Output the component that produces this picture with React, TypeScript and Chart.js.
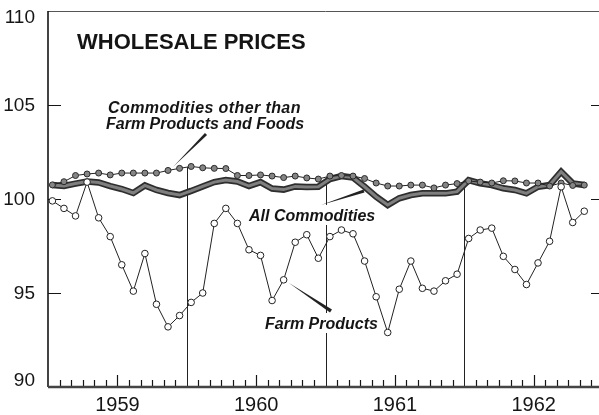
import React, { useEffect, useRef } from "react";
import { Chart, registerables } from "chart.js";

Chart.register(...registerables);

// ---- Data (monthly, Jan 1959 .. Nov 1962) ----
const yearLabels = ["1959", "1960", "1961", "1962"];
const yTickValues = [90, 95, 100, 105, 110];

const farmProducts = [
  99.9, 99.5, 99.1, 100.9, 99.0, 98.0, 96.5, 95.1, 97.1, 94.4, 93.2, 93.8,
  94.5, 95.0, 98.7, 99.5, 98.7, 97.3, 97.0, 94.6, 95.7, 97.7, 98.1, 96.85,
  98.0, 98.35, 98.15, 96.7, 94.8, 92.9, 95.2, 96.7, 95.25, 95.1, 95.65, 96.0,
  97.9, 98.35, 98.45, 96.95, 96.25, 95.45, 96.6, 97.75, 100.65, 98.75, 99.35,
];

const otherCommodities = [
  100.75, 100.92, 101.25, 101.33, 101.38, 101.28, 101.38, 101.38, 101.38, 101.38, 101.52, 101.63,
  101.73, 101.66, 101.63, 101.62, 101.25, 101.25, 101.28, 101.22, 101.14, 101.22, 101.12, 101.06,
  101.22, 101.25, 101.22, 101.09, 100.85, 100.69, 100.69, 100.74, 100.74, 100.59, 100.74, 100.82,
  100.96, 100.9, 100.85, 100.97, 100.96, 100.85, 100.85, 100.69, 100.85, 100.72, 100.74,
];

const allCommodities = [
  100.74, 100.69, 100.82, 100.93, 100.88, 100.69, 100.53, 100.32, 100.72, 100.48, 100.32, 100.21,
  100.43, 100.67, 100.9, 101.01, 100.93, 100.69, 100.9, 100.56, 100.5, 100.67, 100.64, 100.65,
  101.06, 101.22, 101.14, 100.65, 100.12, 99.68, 100.04, 100.21, 100.3, 100.3, 100.3, 100.39,
  101.0, 100.83, 100.74, 100.57, 100.48, 100.3, 100.65, 100.74, 101.45, 100.83, 100.74,
];

const MONTH_OFFSET = 0.38;
const TOTAL_MONTHS = 48;

const toPoints = (arr: number[]) => arr.map((v, i) => ({ x: i + MONTH_OFFSET, y: v }));

const FONT = "'Liberation Sans', Arial, sans-serif";
const INK = "#151515";

function interp(arr: number[], m: number) {
  const t = m - MONTH_OFFSET;
  const i = Math.floor(t);
  const f = t - i;
  const a = arr[Math.max(0, Math.min(arr.length - 1, i))];
  const b = arr[Math.max(0, Math.min(arr.length - 1, i + 1))];
  return a + (b - a) * f;
}

function wedge(ctx: CanvasRenderingContext2D, x1: number, y1: number, x2: number, y2: number, w: number) {
  // thin at (x1,y1), thick (width w) at (x2,y2)
  const dx = x2 - x1, dy = y2 - y1;
  const len = Math.hypot(dx, dy);
  const nx = -dy / len, ny = dx / len;
  ctx.beginPath();
  ctx.moveTo(x1, y1);
  ctx.lineTo(x2 + nx * w / 2, y2 + ny * w / 2);
  ctx.lineTo(x2 - nx * w / 2, y2 - ny * w / 2);
  ctx.closePath();
  ctx.fill();
}

export default function App() {
  const ref = useRef<HTMLCanvasElement>(null);

  useEffect(() => {
    document.body.style.margin = "0";
    document.body.style.overflow = "hidden";
    const canvas = ref.current!;

    const overlay = {
      id: "overlay",
      beforeDatasetsDraw(chart: any) {
        const ctx: CanvasRenderingContext2D = chart.ctx;
        const xs = chart.scales.x;
        const ys = chart.scales.y;
        const { left, right, top, bottom } = chart.chartArea;
        ctx.save();

        // top border
        ctx.strokeStyle = "#555";
        ctx.lineWidth = 1;
        ctx.beginPath();
        ctx.moveTo(left, top + 0.5);
        ctx.lineTo(right, top + 0.5);
        ctx.stroke();

        // left axis
        ctx.strokeStyle = INK;
        ctx.lineWidth = 1.6;
        ctx.beginPath();
        ctx.moveTo(left, top);
        ctx.lineTo(left, bottom);
        ctx.stroke();

        // y ticks (inside, both sides)
        ctx.lineWidth = 1.2;
        [95, 100, 105].forEach((v) => {
          const y = Math.round(ys.getPixelForValue(v)) + 0.5;
          ctx.beginPath();
          ctx.moveTo(left, y);
          ctx.lineTo(left + 13, y);
          ctx.moveTo(right - 12, y);
          ctx.lineTo(right, y);
          ctx.stroke();
        });

        // y labels
        ctx.fillStyle = INK;
        ctx.font = `19px ${FONT}`;
        ctx.textAlign = "right";
        ctx.textBaseline = "middle";
        yTickValues.forEach((v) => {
          let y = ys.getPixelForValue(v);
          if (v === 110) y += 6;
          if (v === 90) y -= 7;
          ctx.fillText(String(v), 35, y + 1);
        });

        // vertical year-boundary lines (up to the upper series)
        ctx.strokeStyle = "#222";
        ctx.lineWidth = 1;
        [12, 24, 36].forEach((m) => {
          const x = Math.round(xs.getPixelForValue(m)) + 0.5;
          const yTop = ys.getPixelForValue(interp(otherCommodities, m));
          ctx.beginPath();
          ctx.moveTo(x, yTop);
          ctx.lineTo(x, bottom);
          ctx.stroke();
        });

        // month ticks on bottom axis
        ctx.strokeStyle = INK;
        ctx.lineWidth = 1.2;
        for (let m = 1; m < TOTAL_MONTHS; m++) {
          if (m % 12 === 0) continue;
          const x = Math.round(xs.getPixelForValue(m)) + 0.5;
          const len = m % 12 === 6 ? 12 : 7;
          ctx.beginPath();
          ctx.moveTo(x, bottom);
          ctx.lineTo(x, bottom - len);
          ctx.stroke();
        }

        // bottom axis
        ctx.strokeStyle = "#444";
        ctx.lineWidth = 2.6;
        ctx.beginPath();
        ctx.moveTo(left, bottom);
        ctx.lineTo(right, bottom);
        ctx.stroke();

        // year labels
        ctx.fillStyle = INK;
        ctx.font = `20px ${FONT}`;
        ctx.textAlign = "center";
        ctx.textBaseline = "middle";
        yearLabels.forEach((lab, k) => {
          ctx.fillText(lab, xs.getPixelForValue(k * 12 + 6), 405);
        });

        // white boxes behind labels crossing the grid line
        ctx.fillStyle = "#fff";
        ctx.fillRect(246, 205, 137, 20);
        ctx.fillRect(262, 313, 118, 20);

        ctx.restore();
      },
      afterDatasetsDraw(chart: any) {
        const ctx: CanvasRenderingContext2D = chart.ctx;
        ctx.save();
        ctx.fillStyle = INK;
        ctx.textAlign = "left";
        ctx.textBaseline = "alphabetic";

        ctx.font = `bold 22px ${FONT}`;
        ctx.fillText("WHOLESALE PRICES", 77, 49);

        ctx.font = `italic bold 16px ${FONT}`;
        (ctx as any).letterSpacing = "0.4px";
        ctx.fillText("Commodities other than", 108, 113);
        (ctx as any).letterSpacing = "0px";
        ctx.fillText("Farm Products and Foods", 106, 129);
        ctx.fillText("All Commodities", 249, 221);
        ctx.fillText("Farm Products", 265, 329);

        // leaders
        ctx.fillStyle = "#222";
        wedge(ctx, 173, 167, 206, 134, 3);
        wedge(ctx, 321, 205, 364, 191, 3);
        wedge(ctx, 289, 283, 331, 311, 3.5);

        ctx.restore();
      },
    };

    const chart = new Chart(canvas, {
      type: "line",
      data: {
        datasets: [
          {
            label: "Farm Products",
            data: toPoints(farmProducts),
            borderColor: "#222",
            borderWidth: 1,
            pointRadius: 3.3,
            pointBackgroundColor: "#fff",
            pointBorderColor: "#222",
            pointBorderWidth: 1,
            tension: 0,
          },
          {
            label: "Commodities other than Farm Products and Foods",
            data: toPoints(otherCommodities),
            borderColor: "#222",
            borderWidth: 1,
            pointRadius: 3,
            pointBackgroundColor: "#858585",
            pointBorderColor: "#2a2a2a",
            pointBorderWidth: 1,
            tension: 0,
          },
          {
            label: "All Commodities (inner)",
            data: toPoints(allCommodities),
            borderColor: "#7f7f7f",
            borderWidth: 3,
            pointRadius: 0,
            tension: 0,
          },
          {
            label: "All Commodities",
            data: toPoints(allCommodities),
            borderColor: "#2e2e2e",
            borderWidth: 6.5,
            pointRadius: 0,
            tension: 0,
          },
        ],
      },
      options: {
        animation: false,
        responsive: false,
        devicePixelRatio: 1,
        layout: { padding: { left: 48, top: 11, right: 8, bottom: 28 } },
        scales: {
          x: { type: "linear", min: 0, max: TOTAL_MONTHS, display: false },
          y: { type: "linear", min: 90, max: 110, display: false },
        },
        plugins: { legend: { display: false }, tooltip: { enabled: false } },
      },
      plugins: [overlay],
    } as any);

    return () => chart.destroy();
  }, []);

  return (
    <div style={{ position: "relative", width: 599, height: 415, overflow: "hidden", background: "#fff" }}>
      <canvas ref={ref} width={611} height={415} style={{ position: "absolute", left: 0, top: 0 }} />
    </div>
  );
}
